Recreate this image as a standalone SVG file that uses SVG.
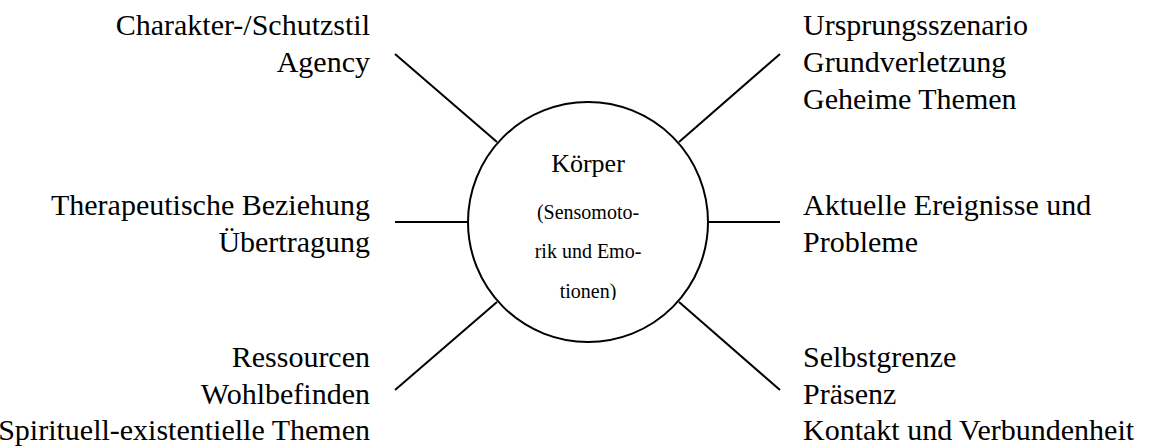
<svg xmlns="http://www.w3.org/2000/svg" width="1170" height="448" viewBox="0 0 1170 448">
<style>
text{fill:#000;font-family:serif}
.r{text-anchor:end}
.c{text-anchor:middle}
.lbl{font-size:30px}
.sm{font-size:20px}
.conn line{stroke:#000;stroke-width:2}
</style>
<defs>
<clipPath id="cl"><rect x="460" y="100" width="260" height="200"/></clipPath>
</defs>
<rect width="1170" height="448" fill="#fff"/>
<g id="connectors" class="conn">
<line x1="395" y1="54" x2="497" y2="142"/>
<line x1="780" y1="54" x2="679" y2="142"/>
<line x1="395" y1="222" x2="468" y2="222"/>
<line x1="708" y1="222" x2="780" y2="222"/>
<line x1="497" y1="302" x2="395" y2="390"/>
<line x1="679" y1="302" x2="780" y2="390"/>
</g>
<g id="center">
<circle cx="588" cy="222" r="120" fill="#fff" stroke="#000" stroke-width="2"/>
<text class="c" x="588" y="172" font-size="26">Körper</text>
<g clip-path="url(#cl)">
<text class="c sm" x="588" y="219">(Sensomoto-</text>
<text class="c sm" x="588" y="258">rik und Emo-</text>
<text class="c sm" x="588" y="298">tionen)</text>
</g>
</g>
<g id="top-left">
<text class="lbl r" x="370" y="35">Charakter-/Schutzstil</text>
<text class="lbl r" x="370" y="72">Agency</text>
</g>
<g id="top-right">
<text class="lbl" x="803" y="35">Ursprungsszenario</text>
<text class="lbl" x="803" y="72">Grundverletzung</text>
<text class="lbl" x="803" y="109">Geheime Themen</text>
</g>
<g id="mid-left">
<text class="lbl r" x="370" y="215">Therapeutische Beziehung</text>
<text class="lbl r" x="370" y="252">Übertragung</text>
</g>
<g id="mid-right">
<text class="lbl" x="803" y="215">Aktuelle Ereignisse und</text>
<text class="lbl" x="803" y="252">Probleme</text>
</g>
<g id="bottom-left">
<text class="lbl r" x="370" y="367">Ressourcen</text>
<text class="lbl r" x="370" y="404">Wohlbefinden</text>
<text class="lbl r" x="370" y="440">Spirituell-existentielle Themen</text>
</g>
<g id="bottom-right">
<text class="lbl" x="803" y="367">Selbstgrenze</text>
<text class="lbl" x="803" y="404">Präsenz</text>
<text class="lbl" x="803" y="440">Kontakt und Verbundenheit</text>
</g>
</svg>
